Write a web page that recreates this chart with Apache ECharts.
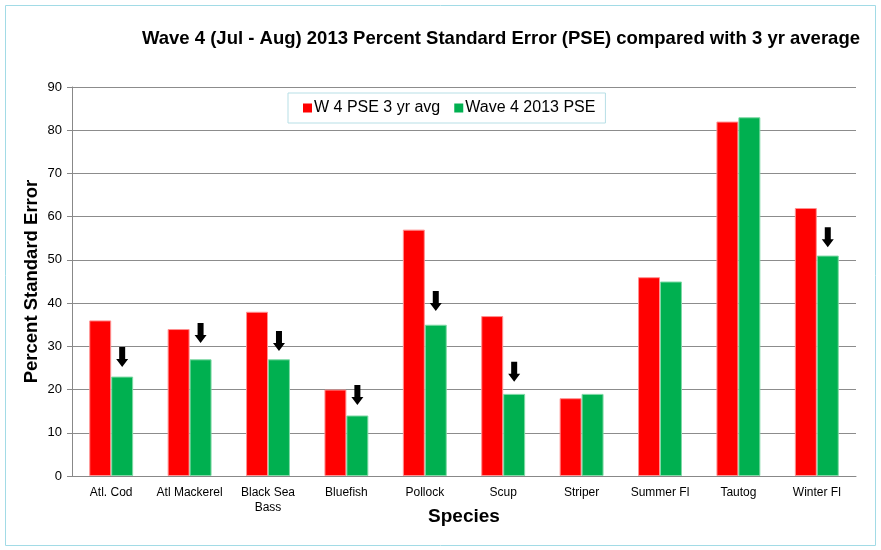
<!DOCTYPE html>
<html lang="en">
<head>
    <meta charset="UTF-8">
    <title>Wave 4 PSE</title>
    <style>
        html,body{
            padding: 0;
            margin: 0;
            width: 100%;
            height: 100%;
            background: #fff;
        }
        .chart{
            width: 881px;
            height: 550px;
        }
    </style>
    <script src="https://cdn.jsdelivr.net/npm/echarts@6/dist/echarts.min.js"></script>
</head>
<body>
<div class="chart"></div>
<script>
    const species = ['Atl. Cod', 'Atl Mackerel', 'Black Sea\nBass', 'Bluefish', 'Pollock', 'Scup', 'Striper', 'Summer Fl', 'Tautog', 'Winter Fl'];
    const avg3yr = [36, 34, 38, 20, 57, 37, 18, 46, 82, 62];
    const pse2013 = [23, 27, 27, 14, 35, 19, 19, 45, 83, 51];
    // where the down arrows point to (null = no arrow)
    const arrowTips = [25.2, 30.8, 28.9, 16.4, 38.2, 21.8, null, null, null, 52.9];
    const yTicks = [0, 90, 10];

    let chart = echarts.init(document.querySelector('.chart'));

    let arrowPoints = [];
    arrowTips.forEach((v, i) => {
        if (v != null) arrowPoints.push({coord: [i, v]});
    });

    let option = {
        backgroundColor: '#fff',
        textStyle: {fontFamily: 'Liberation Sans, Arial, sans-serif'},
        title: {
            text: 'Wave 4 (Jul - Aug) 2013 Percent Standard Error (PSE) compared with 3 yr average',
            left: 137,
            top: 24,
            textStyle: {fontSize: 18.5, fontWeight: 'bold', color: '#000'}
        },
        graphic: [{
            type: 'rect',
            shape: {x: 5.5, y: 5.5, width: 870, height: 540},
            style: {fill: null, stroke: '#a2dbe6', lineWidth: 1},
            z: -1
        }],
        legend: {
            top: 93,
            left: 288,
            padding: [7, 10, 7, 15],
            itemGap: 14,
            itemWidth: 9,
            itemHeight: 9,
            icon: 'rect',
            itemStyle: {borderWidth: 0},
            backgroundColor: '#fff',
            borderColor: '#b7dfe6',
            borderWidth: 1,
            textStyle: {fontSize: 16, color: '#000', padding: [0, 0, 0, -3]},
            data: ['W 4 PSE 3 yr avg', 'Wave 4 2013 PSE']
        },
        grid: {left: 72, right: 25, top: 87, bottom: 74},
        xAxis: {
            type: 'category',
            data: species,
            name: 'Species',
            nameLocation: 'middle',
            nameGap: 31,
            nameMoveOverlap: false,
            nameTextStyle: {fontSize: 19, fontWeight: 'bold', color: '#000'},
            axisLine: {lineStyle: {color: '#888'}},
            axisTick: {length: 5, lineStyle: {color: '#888'}},
            axisLabel: {fontSize: 12, color: '#000', margin: 9, lineHeight: 15, interval: 0}
        },
        yAxis: {
            type: 'value',
            min: yTicks[0],
            max: yTicks[1],
            interval: yTicks[2],
            name: 'Percent Standard Error',
            nameLocation: 'middle',
            nameGap: 31,
            nameMoveOverlap: false,
            nameTextStyle: {fontSize: 18.5, fontWeight: 'bold', color: '#000'},
            axisLine: {show: true, lineStyle: {color: '#888'}},
            axisTick: {show: true, length: 5, lineStyle: {color: '#888'}},
            axisLabel: {fontSize: 13, color: '#000', margin: 10},
            splitLine: {lineStyle: {color: '#8c8c8c'}}
        },
        series: [{
            name: 'W 4 PSE 3 yr avg',
            type: 'bar',
            data: avg3yr,
            barGap: '0%',
            barCategoryGap: '44%',
            itemStyle: {color: '#ff0000', borderColor: '#ff9090', borderWidth: 1},
            animation: false
        }, {
            name: 'Wave 4 2013 PSE',
            type: 'bar',
            data: pse2013,
            itemStyle: {color: '#00b050', borderColor: '#7fd9a5', borderWidth: 1},
            animation: false,
            markPoint: {
                symbol: 'path://M3,0 H9 V12 H12 L6,20 L0,12 H3 Z',
                symbolSize: [12, 20],
                symbolOffset: [0, -10],
                itemStyle: {color: '#000'},
                label: {show: false},
                animation: false,
                data: arrowPoints
            }
        }]
    };

    chart.setOption(option);
</script>
</body>
</html>
